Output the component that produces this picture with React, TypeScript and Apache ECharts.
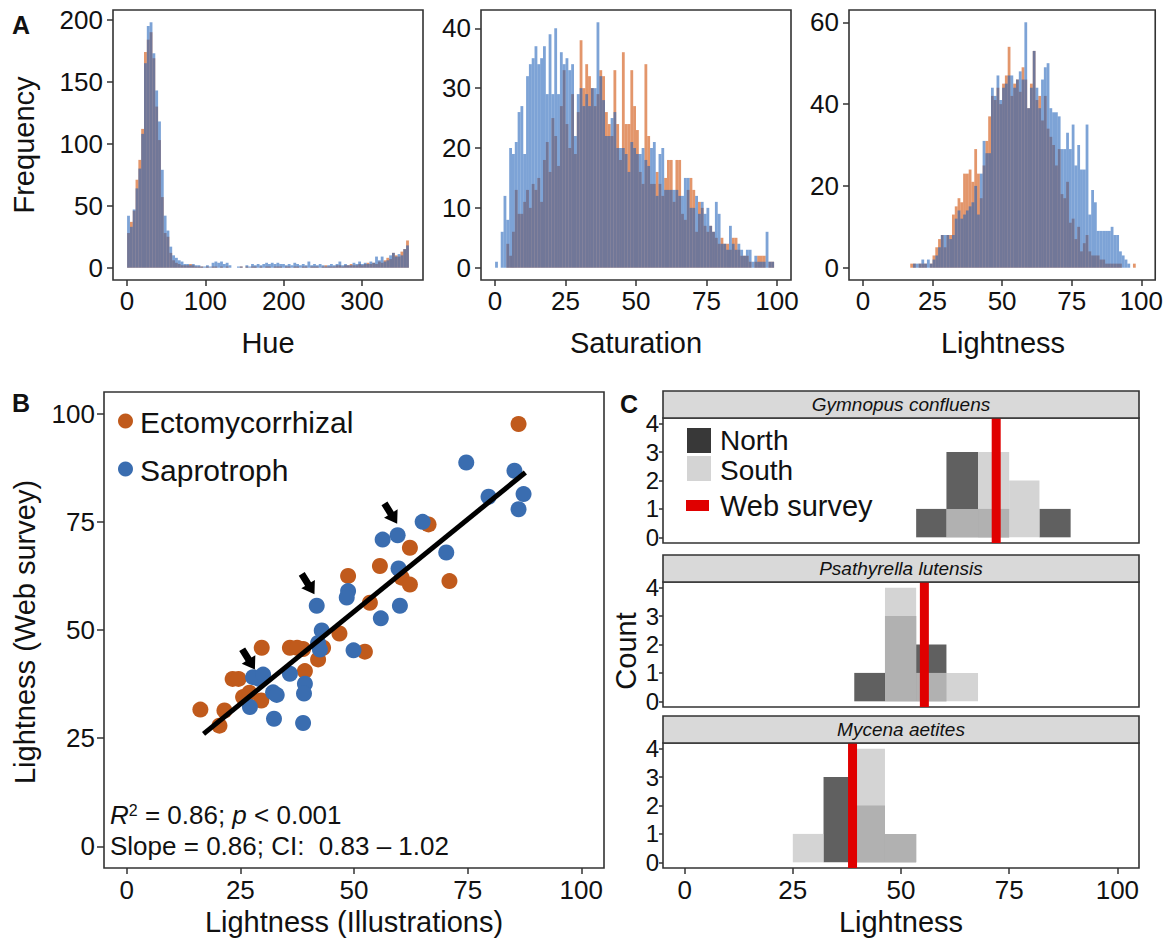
import React, { useEffect, useRef } from "react";
import * as echarts from "echarts";

const FONT = "'Liberation Sans', Arial, Helvetica, sans-serif";
const ORANGE_FILL = "rgba(207,74,0,0.58)";
const BLUE_FILL = "rgba(31,96,184,0.58)";
const ORANGE_PT = "#C05A1C";
const BLUE_PT = "#3A6DB0";
const NORTH_FILL = "rgba(51,51,51,0.78)";
const SOUTH_FILL = "rgba(200,200,200,0.78)";
const RED = "#E00000";
const INK = "#111111";
const BOX = "#333333";

// ---------- Panel A: histogram counts ----------
const HUE_BIN_START = 0;
const HUE_BIN_WIDTH = 3.6;
const hueOrange = [
  28, 37, 46, 71, 87, 112, 174, 184, 190, 169,
  130, 103, 57, 28, 25, 12, 6, 4, 3, 2,
  2, 2, 3, 2, 1, 1, 1, 0, 1, 0,
  1, 1, 0, 1, 0, 1, 0, 0, 0, 0,
  1, 0, 1, 0, 1, 1, 0, 1, 0, 1,
  1, 0, 1, 1, 1, 0, 1, 1, 0, 1,
  1, 0, 1, 1, 0, 1, 1, 1, 0, 1,
  2, 1, 1, 1, 2, 2, 1, 2, 2, 3,
  2, 2, 3, 2, 3, 4, 3, 4, 3, 5,
  4, 6, 8, 7, 12, 10, 9, 13, 15, 22,
];
const hueBlue = [
  42, 33, 47, 64, 80, 108, 165, 195, 198, 173,
  143, 118, 79, 42, 30, 17, 10, 8, 6, 5,
  3, 3, 2, 3, 2, 2, 1, 1, 2, 1,
  4, 5, 4, 5, 3, 4, 2, 0, 0, 1,
  1, 0, 2, 1, 3, 2, 3, 2, 3, 4,
  3, 4, 3, 4, 3, 3, 2, 3, 2, 4,
  3, 2, 3, 2, 5, 2, 3, 2, 3, 2,
  1, 2, 3, 2, 3, 5, 2, 3, 2, 2,
  4, 3, 5, 3, 4, 3, 5, 4, 9, 6,
  9, 5, 6, 10, 12, 9, 11, 10, 15, 18,
];

const SAT_BIN_START = 0;
const SAT_BIN_WIDTH = 1;
const satOrange = [
  0, 0, 0, 0, 4, 2, 6, 13, 9, 9,
  11, 13, 10, 14, 13, 15, 11, 18, 21, 16,
  25, 22, 17, 27, 33, 24, 20, 29, 19, 26,
  38, 30, 34, 32, 30, 27, 29, 33, 32, 26,
  24, 22, 33, 24, 18, 36, 24, 24, 33, 27,
  23, 16, 14, 34, 22, 14, 14, 16, 14, 12,
  15, 18, 18, 11, 18, 18, 9, 8, 13, 15,
  13, 6, 11, 10, 7, 6, 7, 6, 5, 4,
  5, 4, 4, 3, 5, 5, 3, 2, 2, 2,
  1, 0, 1, 2, 2, 2, 0, 1, 1, 0,
];
const satBlue = [
  1, 0, 6, 12, 8, 20, 19, 21, 26, 27,
  19, 32, 34, 35, 37, 34, 35, 37, 29, 39,
  29, 40, 29, 36, 34, 35, 33, 34, 22, 29,
  30, 27, 29, 27, 30, 30, 41, 32, 28, 22,
  22, 25, 26, 20, 20, 20, 19, 16, 21, 20,
  19, 19, 20, 18, 17, 20, 21, 12, 19, 20,
  13, 13, 13, 13, 13, 12, 12, 15, 15, 10,
  10, 12, 9, 11, 9, 10, 7, 6, 11, 9,
  4, 4, 3, 7, 4, 3, 4, 3, 2, 3,
  3, 1, 2, 1, 1, 1, 6, 1, 1, 0,
];

const LIGHT_BIN_START = 17;
const LIGHT_BIN_WIDTH = 1;
const lightOrange = [
  1, 1, 0, 1, 1, 1, 0, 1, 3, 5,
  7, 8, 5, 8, 8, 13, 15, 17, 16, 23,
  23, 24, 21, 29, 23, 17, 25, 31, 37, 42,
  41, 44, 40, 45, 47, 54, 42, 45, 46, 43,
  49, 46, 39, 45, 53, 41, 42, 36, 42, 34,
  32, 30, 25, 29, 18, 17, 21, 11, 12, 7,
  10, 4, 6, 8, 4, 3, 3, 3, 2, 2,
  1, 1, 1, 1, 1, 1, 0, 0, 0, 0,
  1, 0,
];
const lightBlue = [
  0, 1, 1, 1, 2, 1, 2, 1, 2, 3,
  5, 8, 8, 8, 7, 8, 12, 14, 12, 13,
  14, 15, 16, 20, 13, 23, 31, 28, 28, 44,
  42, 47, 41, 44, 45, 47, 47, 44, 46, 48,
  46, 60, 39, 44, 53, 44, 39, 46, 49, 50,
  39, 38, 38, 37, 29, 29, 33, 29, 35, 25,
  30, 24, 24, 35, 13, 19, 16, 9, 9, 9,
  9, 9, 10, 8, 8, 4, 3, 2, 1, 0,
  0, 0,
];

// ---------- Panel B: scatter ----------
const ectoPoints = [
  [86.2, 97.6], [66.4, 74.4], [62.3, 69.0], [55.7, 64.8], [60.5, 62.1],
  [62.3, 60.5], [71.0, 61.3], [48.7, 62.5], [53.5, 56.3], [46.8, 49.2],
  [43.2, 45.9], [52.4, 45.0], [38.8, 45.6], [39.2, 40.5], [42.1, 43.2],
  [16.2, 31.6], [20.4, 27.9], [21.5, 31.4], [23.3, 38.7], [24.6, 38.7],
  [25.6, 34.5], [27.0, 35.5], [29.6, 33.7], [29.7, 45.9], [35.9, 45.9],
  [37.5, 45.9],
];
const sapPoints = [
  [74.7, 88.7], [85.3, 86.8], [79.6, 80.8], [87.3, 81.4], [86.2, 77.9],
  [65.1, 75.0], [56.3, 70.9], [59.6, 71.9], [70.3, 67.9], [59.8, 64.2],
  [48.7, 59.0], [48.4, 57.5], [41.8, 55.6], [60.1, 55.6], [55.9, 52.7],
  [42.9, 49.9], [42.1, 47.0], [42.5, 45.5], [49.9, 45.3], [27.1, 32.2],
  [29.1, 38.7], [27.8, 39.1], [32.2, 35.6], [33.0, 35.0], [32.4, 29.5],
  [35.9, 39.9], [39.2, 37.6], [39.0, 35.3], [38.8, 28.5], [30.0, 39.7],
];
const fitLine = [[16.9, 26.0], [87.7, 86.4]];
const arrowPoints = [[26.8, 43.2], [39.9, 60.6], [58.1, 76.9]];
const statLine1 = "{it|R}{sup|2} = 0.86; {it|p} < 0.001";
const statLine2 = "Slope = 0.86; CI:  0.83 \u2013 1.02";

// ---------- Panel C: per-species histograms ----------
const cBinEdges = [25.0, 32.1, 39.2, 46.3, 53.5, 60.5, 67.8, 75.0, 82.0, 89.2];
const species = ["Gymnopus confluens", "Psathyrella lutensis", "Mycena aetites"];
const northCounts = [
  [0, 0, 0, 0, 1, 3, 1, 0, 1],
  [0, 0, 1, 3, 2, 0, 0, 0, 0],
  [0, 3, 2, 1, 0, 0, 0, 0, 0],
];
const southCounts = [
  [0, 0, 0, 0, 0, 1, 3, 2, 0],
  [0, 0, 0, 4, 1, 1, 0, 0, 0],
  [1, 0, 4, 1, 0, 0, 0, 0, 0],
];
const webSurvey = [72.0, 55.4, 38.8];

// ---------- Tick values ----------
const hueTicks = [0, 100, 200, 300];
const pctTicks = [0, 25, 50, 75, 100];
const hueYTicks = [0, 50, 100, 150, 200];
const satYTicks = [0, 10, 20, 30, 40];
const lightYTicks = [0, 20, 40, 60];
const countTicks = [0, 1, 2, 3, 4];

function histData(start: number, width: number, counts: number[]) {
  const out: number[][] = [];
  counts.forEach((c, i) => {
    if (c > 0) out.push([start + i * width, start + (i + 1) * width, c]);
  });
  return out;
}

function binData(edges: number[], counts: number[]) {
  const out: number[][] = [];
  counts.forEach((c, i) => {
    if (c > 0) out.push([edges[i], edges[i + 1], c]);
  });
  return out;
}

function rectSeries(idx: number, data: number[][], color: string, z: number) {
  return {
    type: "custom",
    xAxisIndex: idx,
    yAxisIndex: idx,
    z,
    silent: true,
    data,
    encode: { x: [0, 1], y: 2 },
    renderItem: (_p: any, api: any) => {
      const p0 = api.coord([api.value(0), 0]);
      const p1 = api.coord([api.value(1), api.value(2)]);
      return {
        type: "rect",
        shape: { x: p0[0], y: p1[1], width: p1[0] - p0[0], height: p0[1] - p1[1] },
        style: { fill: color },
      };
    },
  };
}

function axis(
  idx: number,
  min: number,
  max: number,
  ticks: number[] | null,
  fontSize: number,
  margin: number,
  tickLen: number
) {
  return {
    type: "value",
    gridIndex: idx,
    min,
    max,
    axisLine: { show: false, onZero: false },
    splitLine: { show: false },
    axisTick: {
      show: !!ticks,
      length: tickLen,
      lineStyle: { color: BOX, width: 1.5 },
      customValues: ticks || [],
    },
    axisLabel: {
      show: !!ticks,
      customValues: ticks || [],
      fontSize,
      fontFamily: FONT,
      color: INK,
      margin,
    },
  };
}

const cGrids = [
  { top: 418, strip: 391 },
  { top: 582, strip: 555 },
  { top: 743, strip: 716 },
];

function txt(x: number, y: number, text: string, size: number, opts: any = {}) {
  return {
    type: "text",
    x,
    y,
    z: 100,
    rotation: opts.rotation || 0,
    style: {
      text,
      fill: INK,
      font: `${opts.style || ""} ${opts.weight || ""} ${size}px ${FONT}`,
      textAlign: opts.align || "center",
      textVerticalAlign: "middle",
      rich: opts.rich,
    },
  };
}

export default function App() {
  const ref = useRef<HTMLDivElement>(null);
  useEffect(() => {
    if (!ref.current) return;
    const chart = echarts.init(ref.current, null, { renderer: "svg" });

    const gridBase = {
      show: true,
      borderColor: BOX,
      borderWidth: 1.6,
      backgroundColor: "transparent",
      containLabel: false,
    };
    const grids = [
      { ...gridBase, left: 113, top: 10, width: 310, height: 270 },
      { ...gridBase, left: 481, top: 10, width: 310, height: 270 },
      { ...gridBase, left: 849, top: 10, width: 309, height: 270 },
      { ...gridBase, left: 104, top: 392, width: 500, height: 476 },
      ...cGrids.map((g) => ({ ...gridBase, left: 663, top: g.top, width: 476, height: 125 })),
    ];

    const xAxes = [
      axis(0, -18, 378, hueTicks, 26, 8, 6),
      axis(1, -5, 105, pctTicks, 26, 8, 6),
      axis(2, -5, 105, pctTicks, 26, 8, 6),
      axis(3, -5, 105, pctTicks, 26, 9, 6),
      axis(4, -5, 105, null, 26, 9, 6),
      axis(5, -5, 105, null, 26, 9, 6),
      axis(6, -5, 105, pctTicks, 26, 9, 6),
    ];
    const yAxes = [
      axis(0, -9.9, 207.9, hueYTicks, 26, 10, 6),
      axis(1, -2.05, 43.05, satYTicks, 26, 10, 6),
      axis(2, -3, 63, lightYTicks, 26, 10, 6),
      axis(3, -5, 105, pctTicks, 26, 9, 7),
      axis(4, -0.2, 4.2, countTicks, 24, 4, 4),
      axis(5, -0.2, 4.2, countTicks, 24, 4, 4),
      axis(6, -0.2, 4.2, countTicks, 24, 4, 4),
    ];

    const series: any[] = [
      rectSeries(0, histData(HUE_BIN_START, HUE_BIN_WIDTH, hueOrange), ORANGE_FILL, 2),
      rectSeries(0, histData(HUE_BIN_START, HUE_BIN_WIDTH, hueBlue), BLUE_FILL, 3),
      rectSeries(1, histData(SAT_BIN_START, SAT_BIN_WIDTH, satOrange), ORANGE_FILL, 2),
      rectSeries(1, histData(SAT_BIN_START, SAT_BIN_WIDTH, satBlue), BLUE_FILL, 3),
      rectSeries(2, histData(LIGHT_BIN_START, LIGHT_BIN_WIDTH, lightOrange), ORANGE_FILL, 2),
      rectSeries(2, histData(LIGHT_BIN_START, LIGHT_BIN_WIDTH, lightBlue), BLUE_FILL, 3),
      {
        type: "scatter",
        name: "Ectomycorrhizal",
        xAxisIndex: 3,
        yAxisIndex: 3,
        data: ectoPoints,
        symbolSize: 16,
        itemStyle: { color: ORANGE_PT, opacity: 1 },
        z: 2,
      },
      {
        type: "scatter",
        name: "Saprotroph",
        xAxisIndex: 3,
        yAxisIndex: 3,
        data: sapPoints,
        symbolSize: 16,
        itemStyle: { color: BLUE_PT, opacity: 1 },
        z: 3,
      },
      {
        type: "line",
        xAxisIndex: 3,
        yAxisIndex: 3,
        data: fitLine,
        symbol: "none",
        lineStyle: { color: "#000", width: 5 },
        z: 4,
      },
      {
        type: "scatter",
        xAxisIndex: 3,
        yAxisIndex: 3,
        data: arrowPoints,
        symbol: "path://M4.5,0 L11.5,0 L11.5,12 L16,12 L8,24 L0,12 L4.5,12 Z",
        symbolSize: [16, 24],
        symbolKeepAspect: false,
        symbolRotate: 32,
        itemStyle: { color: "#000", opacity: 1 },
        z: 5,
      },
    ];

    species.forEach((_s, i) => {
      const gi = 4 + i;
      series.push(rectSeries(gi, binData(cBinEdges, northCounts[i]), NORTH_FILL, 2));
      series.push(rectSeries(gi, binData(cBinEdges, southCounts[i]), SOUTH_FILL, 3));
      series.push({
        type: "line",
        xAxisIndex: gi,
        yAxisIndex: gi,
        data: [
          [webSurvey[i], -0.2],
          [webSurvey[i], 4.2],
        ],
        symbol: "none",
        lineStyle: { color: RED, width: 9, cap: "butt" },
        z: 4,
      });
    });

    const graphics: any[] = [
      txt(12, 25, "A", 25, { weight: "bold", align: "left" }),
      txt(24, 145, "Frequency", 29, { rotation: Math.PI / 2 }),
      txt(268, 343, "Hue", 29),
      txt(636, 343, "Saturation", 29),
      txt(1003, 343, "Lightness", 29),
      txt(12, 403, "B", 25, { weight: "bold", align: "left" }),
      txt(25, 632, "Lightness (Web survey)", 29, { rotation: Math.PI / 2 }),
      txt(354, 922, "Lightness (Illustrations)", 29),
      { type: "circle", z: 100, shape: { cx: 125.5, cy: 421, r: 7.5 }, style: { fill: ORANGE_PT } },
      txt(140, 422, "Ectomycorrhizal", 30, { align: "left" }),
      { type: "circle", z: 100, shape: { cx: 125.5, cy: 469, r: 7.5 }, style: { fill: BLUE_PT } },
      txt(140, 470, "Saprotroph", 30, { align: "left" }),
      txt(110, 815, statLine1, 26, {
        align: "left",
        rich: {
          it: { fontStyle: "italic", fontSize: 26, fontFamily: FONT, fill: INK },
          sup: { fontSize: 16, fontFamily: FONT, fill: INK, verticalAlign: "top" },
        },
      }),
      txt(110, 846, statLine2, 26, { align: "left" }),
      txt(620, 404, "C", 25, { weight: "bold", align: "left" }),
      txt(626, 651, "Count", 29, { rotation: Math.PI / 2 }),
      txt(901, 922, "Lightness", 29),
      // legend C
      { type: "rect", z: 100, shape: { x: 687, y: 428, width: 24, height: 25 }, style: { fill: "#383838" } },
      txt(720, 440, "North", 28, { align: "left" }),
      { type: "rect", z: 100, shape: { x: 687, y: 456, width: 24, height: 25 }, style: { fill: "#d4d4d4" } },
      txt(720, 470, "South", 28, { align: "left" }),
      { type: "rect", z: 100, shape: { x: 686, y: 500, width: 23, height: 11 }, style: { fill: RED } },
      txt(720, 506, "Web survey", 29, { align: "left" }),
    ];
    cGrids.forEach((g, i) => {
      graphics.push({
        type: "rect",
        z: 100,
        shape: { x: 663, y: g.strip, width: 476, height: 27 },
        style: { fill: "#d9d9d9", stroke: BOX, lineWidth: 1.6 },
      });
      graphics.push(txt(901, g.strip + 13.5, species[i], 19, { style: "italic" }));
    });

    chart.setOption({
      animation: false,
      backgroundColor: "#ffffff",
      grid: grids,
      xAxis: xAxes,
      yAxis: yAxes,
      series,
      graphic: { elements: graphics },
    });
    return () => chart.dispose();
  }, []);

  return (
    <div
      ref={ref}
      style={{ position: "absolute", left: 0, top: 0, width: 1166, height: 945, background: "#fff" }}
    />
  );
}
